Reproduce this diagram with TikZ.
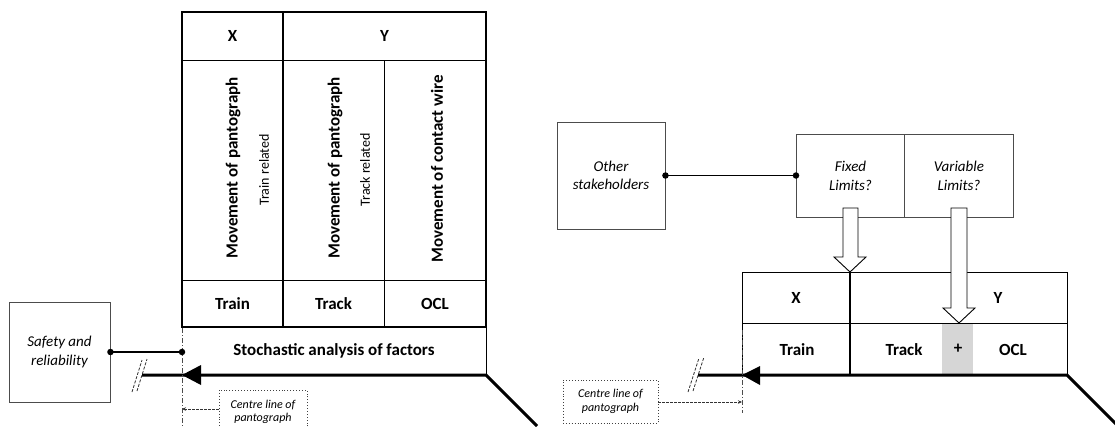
\documentclass[tikz,border=0pt]{standalone}
\usepackage{fontspec}
\setmainfont{Carlito}
\usetikzlibrary{arrows.meta}
\begin{document}
\begin{tikzpicture}[x=1pt,y=-1pt,
  thinrule/.style={line width=1pt,black},
  thickrule/.style={line width=2.6pt,black},
  trackline/.style={line width=3pt,black},
  box/.style={draw=black!70,line width=0.9pt,fill=white,inner sep=0pt},
  lab/.style={font=\fontsize{17}{20}\selectfont\bfseries,inner sep=0pt},
  sublab/.style={font=\fontsize{14}{16}\selectfont,inner sep=0pt},
  note/.style={font=\fontsize{15}{18.5}\selectfont\itshape,align=center},
  clnote/.style={draw=black!75,dotted,line width=0.9pt,font=\fontsize{12}{13.5}\selectfont\itshape,align=center,inner sep=0pt},
  centreline/.style={black!70,line width=0.8pt,dash pattern=on 5pt off 2pt on 1pt off 2pt},
  breakmark/.style={black!80,line width=0.8pt,dash pattern=on 3pt off 1.5pt},
  pointer/.style={black!80,line width=0.8pt,dash pattern=on 2.5pt off 1.5pt,-{Stealth[length=4pt,width=3.5pt]}},
  dot/.style={circle,fill=black,inner sep=0pt,minimum size=6.5pt},
  hollow/.style={draw=black,line width=0.9pt,fill=white,line join=miter},
  tip/.style={fill=black}
]
\useasboundingbox (0,0) rectangle (1115,426);
\clip (0,0) rectangle (1115,426);

% ---------------- left: factor table ----------------
\draw[thinrule] (182,60) -- (486,60);
\draw[thinrule] (182,280) -- (486,280);
\draw[thinrule] (384,60) -- (384,327);
\draw[thinrule] (486,327) -- (486,375);
\draw[thickrule] (182,12) rectangle (486,327);
\draw[thickrule] (283,12) -- (283,327);

\node[lab] (lx) at (232.5,36) {X};
\node[lab] (ly) at (384.5,36) {Y};
\node[lab,rotate=90] (mv1) at (233,168) {Movement of pantograph};
\node[sublab,rotate=90] (mv1s) at (264,170) {Train related};
\node[lab,rotate=90] (mv2) at (335,168) {Movement of pantograph};
\node[sublab,rotate=90] (mv2s) at (365,170) {Track related};
\node[lab,rotate=90] (mv3) at (437,169) {Movement of contact wire};
\node[lab] (ltrain) at (232.5,304) {Train};
\node[lab] (ltrack) at (333.5,304) {Track};
\node[lab] (locl) at (435,304) {OCL};
\node[lab] (stoch) at (334,351) {Stochastic analysis of factors};

% track line with direction arrow and break
\coordinate (la) at (142,375);
\coordinate (lb) at (486,375);
\coordinate (lc) at (537,426);
\draw[trackline,line join=round] (la) -- (lb) -- (lc);
\fill[tip] (182,375) -- (201,365) -- (201,385) -- cycle;
\draw[breakmark] (132,392) -- (142,360);
\draw[breakmark] (137,391) -- (147,359);

% centre line of pantograph
\coordinate (lcl1) at (182,328);
\coordinate (lcl2) at (182,426);
\draw[centreline] (lcl1) -- (lcl2);
\node[clnote,minimum width=88pt,minimum height=44pt] (lclbox) at (263,412)
  {Centre line of\\pantograph};
\coordinate (lclp) at (182,409);
\draw[pointer] (lclbox.west |- lclp) -- (lclp);

% safety and reliability
\node[box,note,minimum width=101pt,minimum height=100pt] (safety) at (59.5,352)
  {Safety and\\reliability};
\coordinate (ljoin) at (182,352);
\draw[line width=1.2pt] (safety.east) -- (ljoin);
\node[dot] at (safety.east) {};
\node[dot] at (ljoin) {};

% ---------------- right: limits ----------------
\node[box,note,minimum width=108pt,minimum height=107pt] (other) at (611,175.5)
  {Other\\stakeholders};
\node[box,note,minimum width=108pt,minimum height=83pt,anchor=north west] (fixed) at (796,134)
  {Fixed\\Limits?};
\node[box,note,minimum width=109pt,minimum height=83pt,anchor=north west] (variable) at (904,134)
  {Variable\\Limits?};
\draw[line width=1.2pt] (other.east) -- (fixed.west |- other.east);
\node[dot] at (other.east) {};
\node[dot] at (fixed.west |- other.east) {};

% right table
\fill[black!16] (942,323) rectangle (973,374);
\draw[thinrule] (742,272) rectangle (1067,375);
\draw[thinrule] (742,323) -- (1067,323);
\draw[thickrule] (850,272) -- (850,375);

\node[lab] (rx) at (796,298) {X};
\node[lab] (ry) at (998,298) {Y};
\node[lab] (rtrain) at (797,350) {Train};
\node[lab] (rtrack) at (904,350) {Track};
\node[lab] (rplus) at (958,349) {+};
\node[lab] (rocl) at (1013,350) {OCL};

% track line with direction arrow and break
\coordinate (ra) at (698,375);
\coordinate (rb) at (1067,375);
\coordinate (rc) at (1118,426);
\draw[trackline,line join=round] (ra) -- (rb) -- (rc);
\fill[tip] (742,375) -- (760,366) -- (760,385) -- cycle;
\draw[breakmark] (688,392) -- (699,358);
\draw[breakmark] (693,391) -- (704,357);

% centre line of pantograph
\coordinate (rcl1) at (742,330);
\coordinate (rcl2) at (742,413);
\draw[centreline] (rcl1) -- (rcl2);
\node[clnote,minimum width=95pt,minimum height=43pt] (rclbox) at (610.5,401.5)
  {Centre line of\\pantograph};
\coordinate (rclp) at (742,402);
\draw[pointer] (rclbox.east |- rclp) -- (rclp);

% hollow arrows from limits into the table
\draw[hollow] (843,208) -- (858,208) -- (858,257) -- (866,257) -- (850,272)
  -- (834,257) -- (843,257) -- cycle;
\draw[hollow] (951,208) -- (967,208) -- (967,308) -- (975,308) -- (959,323)
  -- (943,308) -- (951,308) -- cycle;
\end{tikzpicture}
\end{document}
